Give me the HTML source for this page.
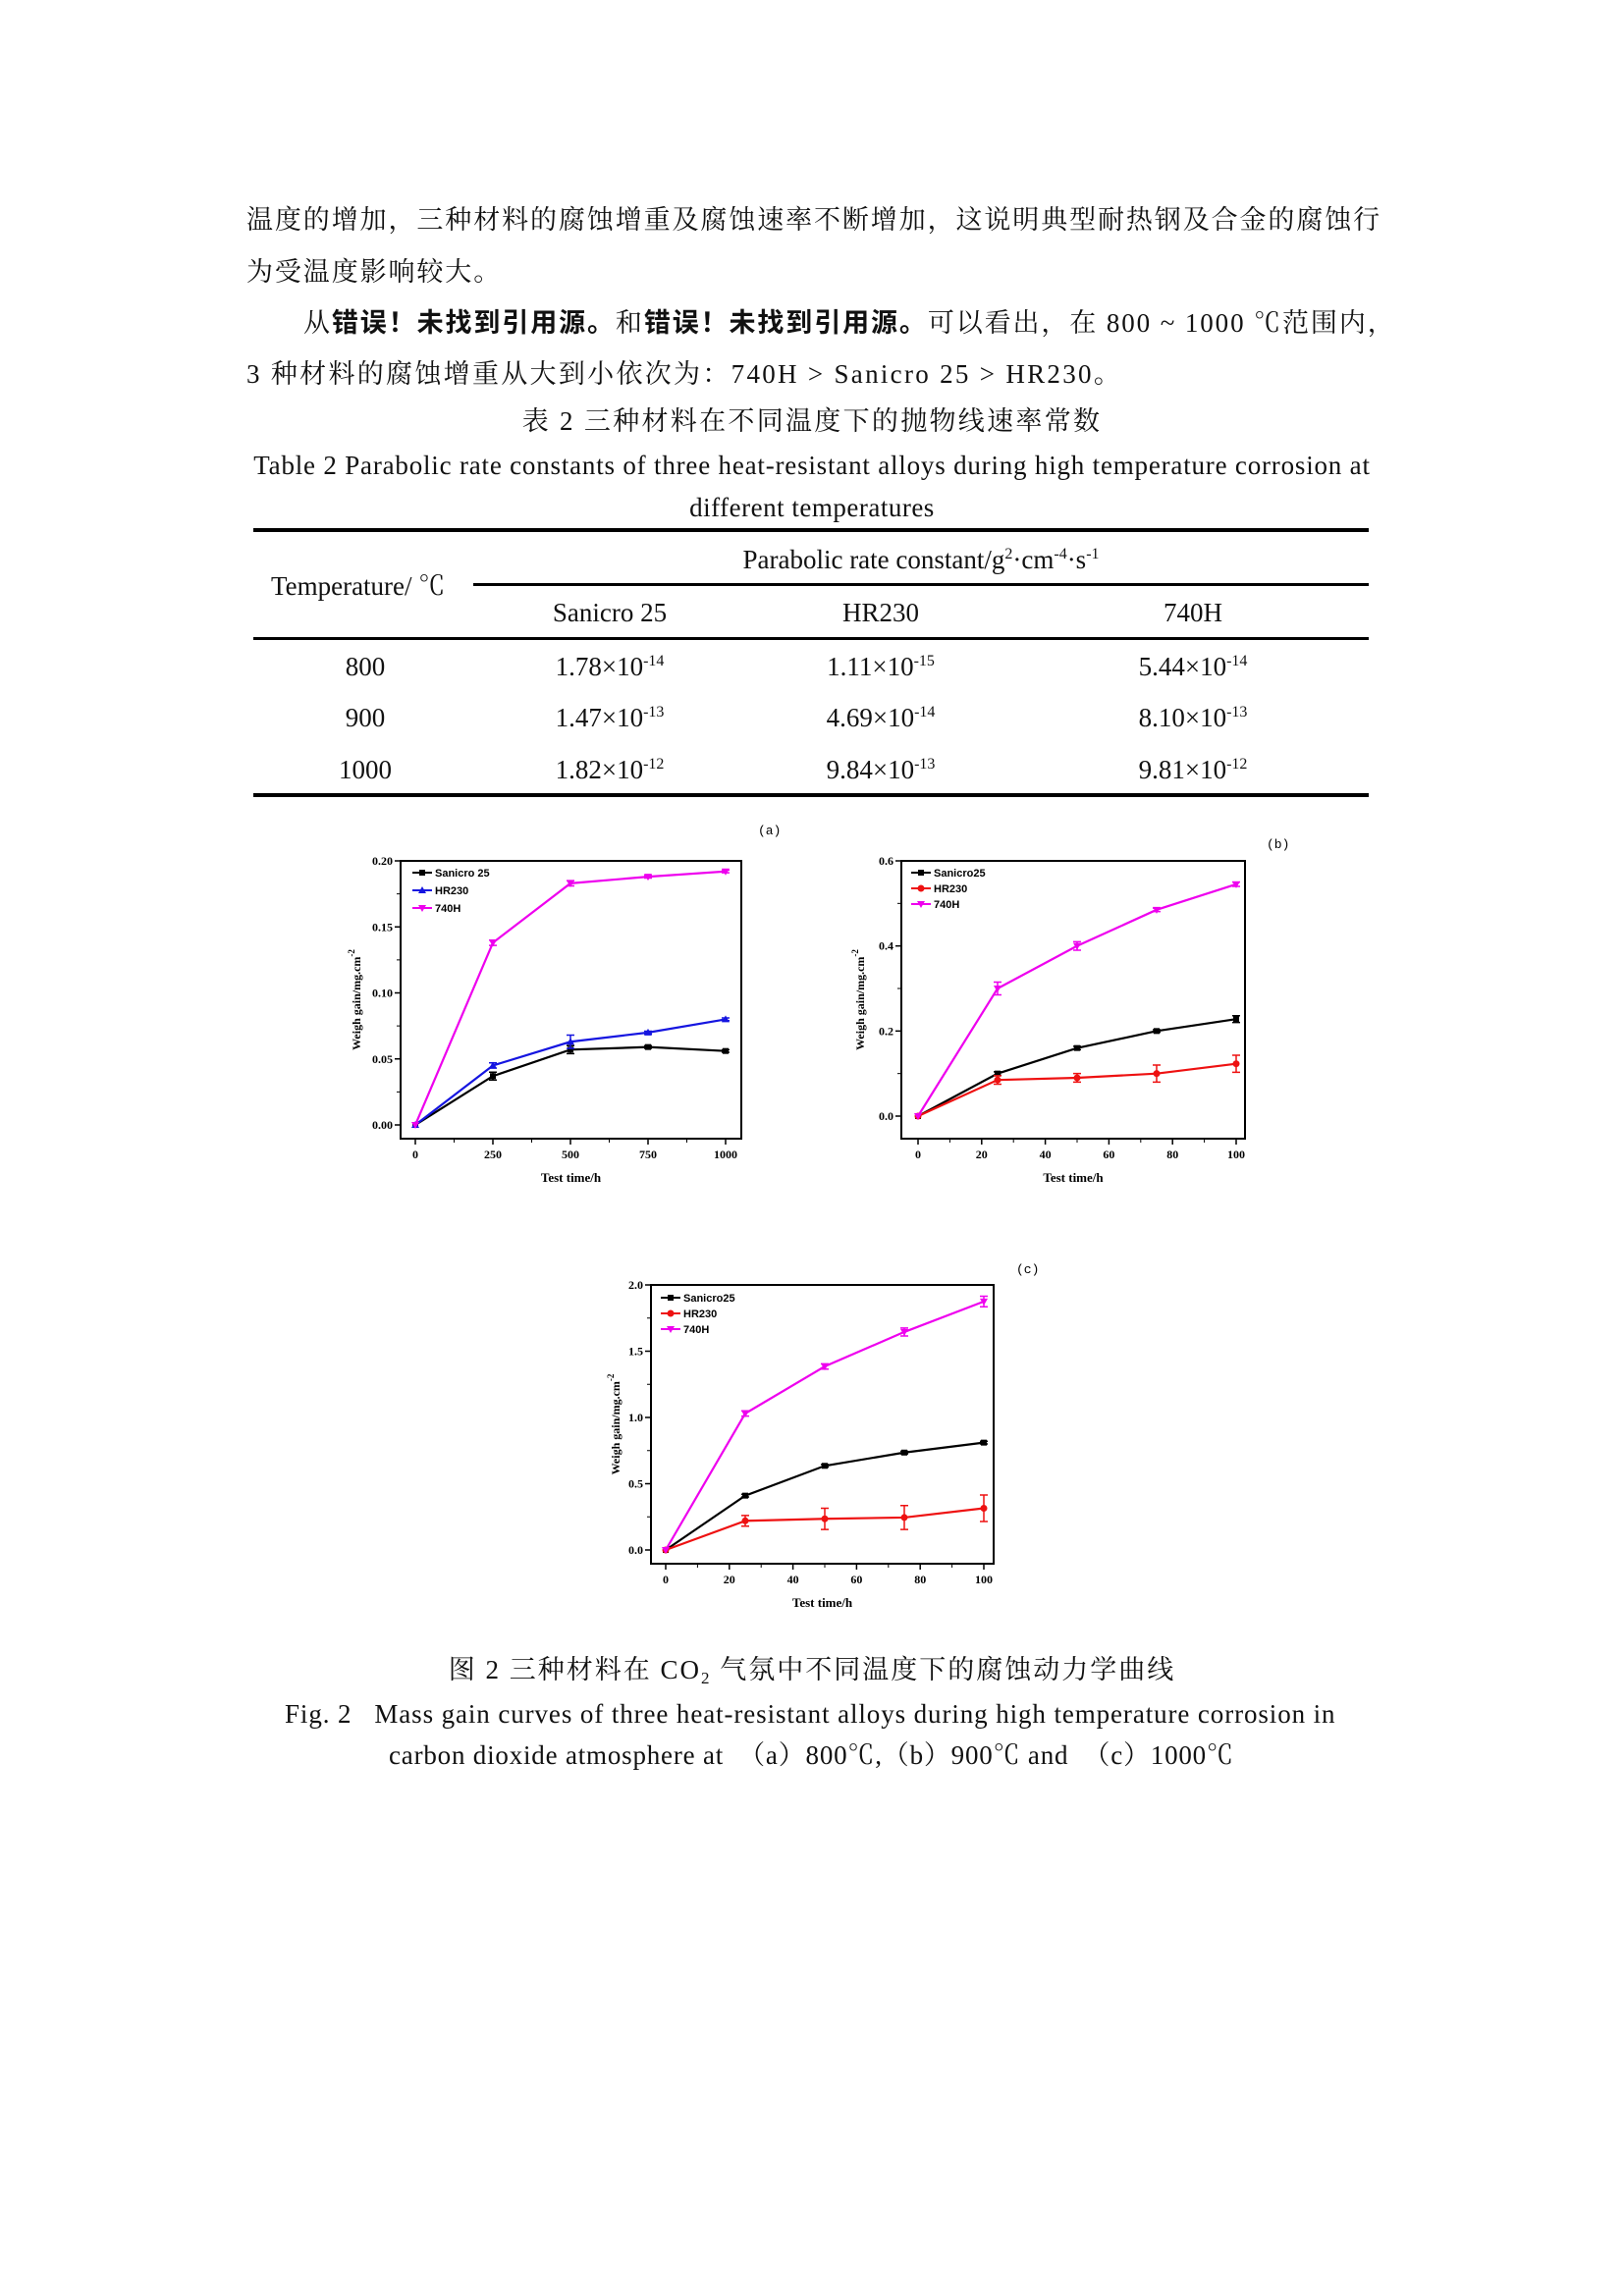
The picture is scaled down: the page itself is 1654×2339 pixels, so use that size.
<!DOCTYPE html>
<html><head><meta charset="utf-8"><style>
body{margin:0;background:#fff}
#pg{position:relative;width:1654px;height:2339px;overflow:hidden;font-family:"Liberation Serif","Noto Serif CJK SC",serif;color:#111}
.t{position:absolute;white-space:nowrap;font-size:27px;line-height:1}
.c{transform:translateX(-50%)}
.r{position:absolute;background:#000}
sup{font-size:16px;vertical-align:10px;line-height:0}
b{font-family:"Liberation Sans","Noto Sans CJK SC",sans-serif;font-weight:bold}
</style></head><body><div id="pg">
<div class="t" style="left:251px;top:211px;letter-spacing:1.9px">温度的增加，三种材料的腐蚀增重及腐蚀速率不断增加，这说明典型耐热钢及合金的腐蚀行</div>
<div class="t" style="left:251px;top:264px;letter-spacing:1.9px">为受温度影响较大。</div>
<div class="t" style="left:309px;top:316px;letter-spacing:1.9px">从<b>错误！未找到引用源。</b>和<b>错误！未找到引用源。</b>可以看出，在 800 ~ 1000 ℃范围内，</div>
<div class="t" style="left:251px;top:368px;letter-spacing:2.3px">3 种材料的腐蚀增重从大到小依次为：740H &gt; Sanicro 25 &gt; HR230。</div>
<div class="t c" style="left:827px;top:416px;letter-spacing:2.3px">表 2 三种材料在不同温度下的抛物线速率常数</div>
<div class="t c" style="left:827px;top:461px;letter-spacing:0.8px">Table 2 Parabolic rate constants of three heat-resistant alloys during high temperature corrosion at</div>
<div class="t c" style="left:827px;top:504px;letter-spacing:0.5px">different temperatures</div>
<div class="r" style="left:258px;top:538px;width:1136px;height:4px"></div>
<div class="r" style="left:482px;top:594px;width:912px;height:3px"></div>
<div class="r" style="left:258px;top:649px;width:1136px;height:3px"></div>
<div class="r" style="left:258px;top:808px;width:1136px;height:4px"></div>
<div class="t c" style="left:938px;top:557px">Parabolic rate constant/g<sup>2</sup>·cm<sup>-4</sup>·s<sup>-1</sup></div>
<div class="t" style="left:276px;top:584px">Temperature/ ℃</div>
<div class="t c" style="left:621px;top:611px">Sanicro 25</div>
<div class="t c" style="left:897px;top:611px">HR230</div>
<div class="t c" style="left:1215px;top:611px">740H</div>
<div class="t c" style="left:372px;top:666px">800</div>
<div class="t c" style="left:372px;top:718px">900</div>
<div class="t c" style="left:372px;top:771px">1000</div>
<div class="t c" style="left:621px;top:666px">1.78×10<sup>-14</sup></div>
<div class="t c" style="left:897px;top:666px">1.11×10<sup>-15</sup></div>
<div class="t c" style="left:1215px;top:666px">5.44×10<sup>-14</sup></div>
<div class="t c" style="left:621px;top:718px">1.47×10<sup>-13</sup></div>
<div class="t c" style="left:897px;top:718px">4.69×10<sup>-14</sup></div>
<div class="t c" style="left:1215px;top:718px">8.10×10<sup>-13</sup></div>
<div class="t c" style="left:621px;top:771px">1.82×10<sup>-12</sup></div>
<div class="t c" style="left:897px;top:771px">9.84×10<sup>-13</sup></div>
<div class="t c" style="left:1215px;top:771px">9.81×10<sup>-12</sup></div>
<svg id="sv" width="1654" height="2339" style="position:absolute;left:0;top:0" font-family="Liberation Serif,serif" font-weight="bold"></svg>
<div class="t c" style="left:827px;top:1688px;letter-spacing:2px">图 2 三种材料在 CO<span style="font-size:17px;vertical-align:-5px">2</span> 气氛中不同温度下的腐蚀动力学曲线</div>
<div class="t" style="left:290px;top:1733px;letter-spacing:0.9px">Fig. 2&nbsp;&nbsp;&nbsp;Mass gain curves of three heat-resistant alloys during high temperature corrosion in</div>
<div class="t" style="left:396px;top:1775px;letter-spacing:0.8px">carbon dioxide atmosphere at &nbsp;（a）800℃,（b）900℃ and &nbsp;（c）1000℃</div>
</div>
<script>
var s='';
function chart(o){
 var X=function(v){return o.x0+(v-o.xa)/(o.xb-o.xa)*(o.x1-o.x0)};
 var Y=function(v){return o.y0+(v-o.ya)/(o.yb-o.ya)*(o.y1-o.y0)};
 s+='<rect x="'+o.L+'" y="'+o.T+'" width="'+(o.R-o.L)+'" height="'+(o.B-o.T)+'" fill="none" stroke="#000" stroke-width="2"/>';
 o.xt.forEach(function(v,i){var x=X(v);s+='<line x1="'+x+'" y1="'+o.B+'" x2="'+x+'" y2="'+(o.B+6)+'" stroke="#000" stroke-width="1.5"/>';
  s+='<text x="'+x+'" y="'+(o.B+20)+'" font-size="12" text-anchor="middle">'+v+'</text>';
  if(i<o.xt.length-1){var m=X(v+(o.xt[1]-o.xt[0])/2);s+='<line x1="'+m+'" y1="'+o.B+'" x2="'+m+'" y2="'+(o.B+4)+'" stroke="#000"/>';}});
 o.yt.forEach(function(v,i){var y=Y(v);s+='<line x1="'+o.L+'" y1="'+y+'" x2="'+(o.L-6)+'" y2="'+y+'" stroke="#000" stroke-width="1.5"/>';
  s+='<text x="'+(o.L-8)+'" y="'+(y+4)+'" font-size="12" text-anchor="end">'+v.toFixed(o.dp)+'</text>';
  if(i<o.yt.length-1){var m=Y(v+(o.yt[1]-o.yt[0])/2);s+='<line x1="'+o.L+'" y1="'+m+'" x2="'+(o.L-4)+'" y2="'+m+'" stroke="#000"/>';}});
 s+='<text x="'+((o.L+o.R)/2)+'" y="'+(o.B+44)+'" font-size="13" text-anchor="middle">Test time/h</text>';
 s+='<text transform="translate('+o.yl+','+((o.T+o.B)/2)+') rotate(-90)" font-size="12" text-anchor="middle">Weigh gain/mg.cm<tspan dy="-6" font-size="9">-2</tspan></text>';
 s+='<text x="'+o.lx+'" y="'+o.ly+'" font-size="13" font-weight="normal" font-family="Liberation Mono,monospace">'+o.lab+'</text>';
 o.ser.forEach(function(se,k){
  var p=se.d.map(function(v,i){return X(o.xs[i])+','+Y(v)}).join(' ');
  s+='<polyline points="'+p+'" fill="none" stroke="'+se.c+'" stroke-width="2.2"/>';
  se.d.forEach(function(v,i){var x=X(o.xs[i]),y=Y(v);
   if(se.e&&se.e[i]){var e=(Y(0)-Y(se.e[i]));s+='<path d="M'+(x-4)+','+(y-e)+'h8M'+x+','+(y-e)+'V'+(y+e)+'M'+(x-4)+','+(y+e)+'h8" stroke="'+se.c+'" stroke-width="1.5"/>';}
   s+=mk(se.m,x,y,se.c);});
  var ly=o.lgy+k*o.lgd;
  s+='<line x1="'+o.lgx+'" y1="'+ly+'" x2="'+(o.lgx+20)+'" y2="'+ly+'" stroke="'+se.c+'" stroke-width="2"/>'+mk(se.m,o.lgx+10,ly,se.c);
  s+='<text x="'+(o.lgx+23)+'" y="'+(ly+4)+'" font-size="11" font-family="Liberation Sans,sans-serif">'+se.n+'</text>';
 });
}
function mk(m,x,y,c){
 if(m=='s')return '<rect x="'+(x-3)+'" y="'+(y-3)+'" width="6" height="6" fill="'+c+'"/>';
 if(m=='o')return '<circle cx="'+x+'" cy="'+y+'" r="3.5" fill="'+c+'"/>';
 if(m=='u')return '<path d="M'+(x-4)+','+(y+3)+'L'+(x+4)+','+(y+3)+'L'+x+','+(y-4)+'Z" fill="'+c+'"/>';
 return '<path d="M'+(x-4)+','+(y-3)+'L'+(x+4)+','+(y-3)+'L'+x+','+(y+4)+'Z" fill="'+c+'"/>';
}
chart({L:408,R:755,T:877,B:1160,x0:423,x1:739,xa:0,xb:1000,y0:1146,y1:877,ya:0,yb:0.2,xt:[0,250,500,750,1000],yt:[0,0.05,0.1,0.15,0.2],dp:2,xs:[0,250,500,750,1000],yl:367,lx:772,ly:850,lab:'(a)',lgx:420,lgy:889,lgd:18,
 ser:[{n:'Sanicro 25',c:'#000',m:'s',d:[0,0.037,0.057,0.059,0.056],e:[0,0.003,0.003,0.001,0.001]},
 {n:'HR230',c:'#1515e0',m:'u',d:[0,0.045,0.063,0.070,0.080],e:[0,0.002,0.005,0.001,0.001]},
 {n:'740H',c:'#ee00ee',m:'v',d:[0,0.138,0.183,0.188,0.192],e:[0,0.002,0.002,0.001,0.001]}]});
chart({L:918,R:1268,T:877,B:1160,x0:935,x1:1259,xa:0,xb:100,y0:1137,y1:877,ya:0,yb:0.6,xt:[0,20,40,60,80,100],yt:[0,0.2,0.4,0.6],dp:1,xs:[0,25,50,75,100],yl:880,lx:1290,ly:864,lab:'(b)',lgx:928,lgy:889,lgd:16,
 ser:[{n:'Sanicro25',c:'#000',m:'s',d:[0,0.1,0.16,0.2,0.228],e:[0,0.004,0.004,0.003,0.008]},
 {n:'HR230',c:'#ee1111',m:'o',d:[0,0.085,0.09,0.1,0.123],e:[0,0.01,0.01,0.02,0.02]},
 {n:'740H',c:'#ee00ee',m:'v',d:[0,0.3,0.4,0.485,0.545],e:[0,0.015,0.01,0.004,0.005]}]});
chart({L:663,R:1012,T:1309,B:1593,x0:678,x1:1002,xa:0,xb:100,y0:1579,y1:1309,ya:0,yb:2,xt:[0,20,40,60,80,100],yt:[0,0.5,1,1.5,2],dp:1,xs:[0,25,50,75,100],yl:631,lx:1035,ly:1297,lab:'(c)',lgx:673,lgy:1322,lgd:16,
 ser:[{n:'Sanicro25',c:'#000',m:'s',d:[0,0.41,0.635,0.735,0.81],e:[0,0.01,0.01,0.01,0.01]},
 {n:'HR230',c:'#ee1111',m:'o',d:[0,0.22,0.235,0.245,0.315],e:[0,0.04,0.08,0.09,0.1]},
 {n:'740H',c:'#ee00ee',m:'v',d:[0,1.03,1.385,1.645,1.875],e:[0,0.02,0.02,0.03,0.04]}]});
document.getElementById('sv').innerHTML=s;
</script>
</body></html>
